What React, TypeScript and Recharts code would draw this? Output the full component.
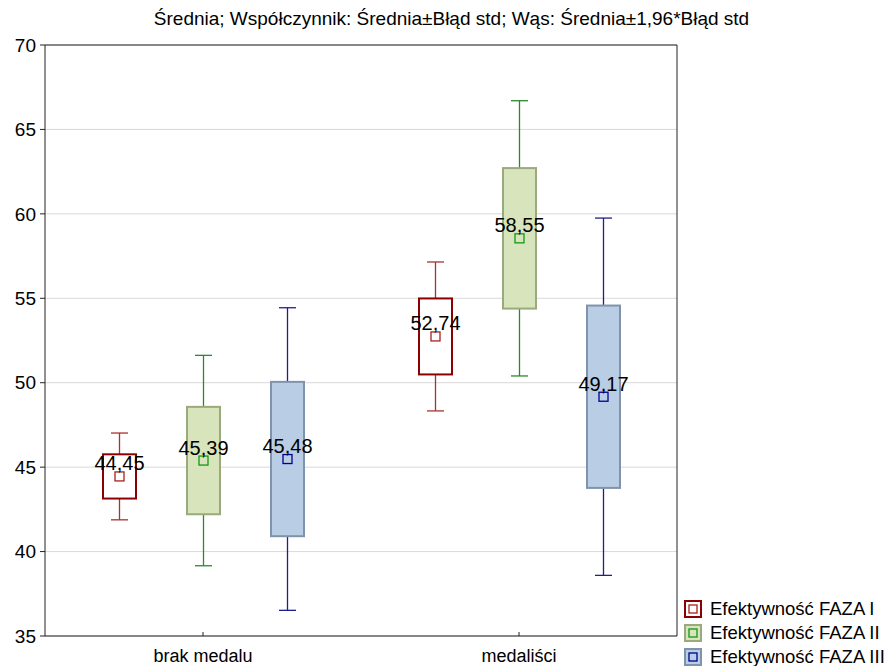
import React from 'react';
import { BarChart, Bar, XAxis, YAxis, CartesianGrid, Legend } from 'recharts';

const categories = ['brak medalu', 'medaliści'];
const seriesNames = ['Efektywność FAZA I', 'Efektywność FAZA II', 'Efektywność FAZA III'];

// per series: [brak medalu, medaliści]
const means = [
  [44.45, 52.74],
  [45.39, 58.55],
  [45.48, 49.17],
];
const boxLow = [
  [43.14, 50.49],
  [42.21, 54.39],
  [40.91, 43.77],
];
const boxHigh = [
  [45.76, 54.99],
  [48.57, 62.71],
  [50.05, 54.57],
];
const whiskerLow = [
  [41.88, 48.33],
  [39.16, 50.40],
  [36.52, 38.59],
];
const whiskerHigh = [
  [47.02, 57.15],
  [51.62, 66.70],
  [54.44, 59.75],
];

const yTicks = [35, 40, 45, 50, 55, 60, 65, 70];

const colors = [
  { fill: '#ffffff', stroke: '#8b0000', whisker: '#a83232', marker: '#a82020' },
  { fill: '#d8e4bc', stroke: '#9aaa7c', whisker: '#2a8a2a', marker: '#129912' },
  { fill: '#b9cde5', stroke: '#8093ad', whisker: '#1f1f8c', marker: '#00008f' },
];

const font = '"Liberation Sans", Arial, sans-serif';

const rows = categories.map((name, c) => {
  const row: Record<string, any> = { name };
  seriesNames.forEach((_, s) => {
    row[`mean${s}`] = means[s][c];
    row[`bl${s}`] = boxLow[s][c];
    row[`bh${s}`] = boxHigh[s][c];
    row[`wl${s}`] = whiskerLow[s][c];
    row[`wh${s}`] = whiskerHigh[s][c];
    row[`range${s}`] = [whiskerLow[s][c], whiskerHigh[s][c]];
  });
  return row;
});

// the bar spans the whiskers; box and mean are placed inside it
const BoxShape = (props: any) => {
  const { x, y, width, height, payload, s } = props;
  const col = colors[s];
  const top = Math.min(y, y + height);
  const bot = Math.max(y, y + height);
  const hi = payload[`wh${s}`];
  const lo = payload[`wl${s}`];
  const py = (v: number) => top + ((hi - v) / (hi - lo)) * (bot - top);
  const cx = x + width / 2;
  const cap = 17;
  const bTop = py(payload[`bh${s}`]);
  const bBot = py(payload[`bl${s}`]);
  const m = payload[`mean${s}`];
  const my = py(m);
  return (
    <g>
      <line x1={cx} x2={cx} y1={top} y2={bot} stroke={col.whisker} strokeWidth={1.3} />
      <line x1={cx - cap / 2} x2={cx + cap / 2} y1={top} y2={top} stroke={col.whisker} strokeWidth={1.3} />
      <line x1={cx - cap / 2} x2={cx + cap / 2} y1={bot} y2={bot} stroke={col.whisker} strokeWidth={1.3} />
      <rect x={x} y={bTop} width={width} height={bBot - bTop} fill={col.fill} stroke={col.stroke} strokeWidth={2} />
      <rect x={cx - 4.5} y={my - 4.5} width={9} height={9} fill="none" stroke={col.marker} strokeWidth={1.3} />
      <text x={cx} y={my - 6} textAnchor="middle" fontSize={20} fontFamily={font} fill="#000">
        {m.toFixed(2).replace('.', ',')}
      </text>
    </g>
  );
};

const CatTick = (props: any) => {
  const { x, y, payload } = props;
  return (
    <g>
      <line x1={x} x2={x} y1={y - 13} y2={y - 17} stroke="#222" />
      <text x={x} y={y} dy="0.71em" textAnchor="middle" fontSize={18} fontFamily={font} fill="#000">
        {payload.value}
      </text>
    </g>
  );
};

const LegendBox = () => (
  <div style={{ fontFamily: font, fontSize: 18.5, color: '#000' }}>
    {seriesNames.map((n, s) => (
      <div key={n} style={{ display: 'flex', alignItems: 'center', height: 24 }}>
        <svg width={18} height={18} style={{ marginRight: 8 }}>
          <rect x={1} y={1} width={16} height={16} fill={colors[s].fill} stroke={colors[s].stroke} strokeWidth={2} />
          <rect x={5} y={5} width={8} height={8} fill="none" stroke={colors[s].marker} strokeWidth={1.3} />
        </svg>
        <span style={{ whiteSpace: 'nowrap' }}>{n}</span>
      </div>
    ))}
  </div>
);

export default function App() {
  return (
    <div style={{ position: 'absolute', left: 0, top: 0, width: 888, height: 666, background: '#fff' }}>
      <div
        style={{
          position: 'absolute',
          left: 0,
          top: 8,
          width: 903,
          textAlign: 'center',
          fontFamily: font,
          fontSize: 19,
          color: '#000',
          whiteSpace: 'nowrap',
        }}
      >
        Średnia; Współczynnik: Średnia±Błąd std; Wąs: Średnia±1,96*Błąd std
      </div>
      <BarChart
        width={888}
        height={666}
        data={rows}
        margin={{ top: 45, right: 210, bottom: 0, left: 0 }}
        barSize={33}
        barGap={51}
      >
        <CartesianGrid vertical={false} stroke="#d9d9d9" />
        <XAxis
          dataKey="name"
          height={30}
          axisLine={{ stroke: '#222' }}
          tickLine={false}
          tickSize={0}
          tickMargin={13}
          tick={<CatTick />}
          interval={0}
        />
        <XAxis
          xAxisId="top"
          dataKey="name"
          orientation="top"
          height={1}
          mirror
          tick={false}
          tickSize={4}
          axisLine={{ stroke: '#222' }}
          tickLine={{ stroke: '#222' }}
        />
        <YAxis
          domain={[35, 70]}
          ticks={yTicks}
          allowDataOverflow
          width={45}
          tickSize={5}
          tickMargin={4}
          axisLine={{ stroke: '#222' }}
          tickLine={{ stroke: '#222' }}
          tick={{ fontSize: 19, fill: '#000', fontFamily: font }}
        />
        <YAxis
          yAxisId="right"
          orientation="right"
          domain={[35, 70]}
          width={1}
          tick={false}
          tickLine={false}
          axisLine={{ stroke: '#222' }}
        />
        <Legend
          layout="vertical"
          verticalAlign="middle"
          align="center"
          wrapperStyle={{ left: 684, top: 597, width: 204, height: 72 }}
          content={<LegendBox />}
        />
        {seriesNames.map((n, s) => (
          <Bar
            key={n}
            dataKey={`range${s}`}
            name={n}
            isAnimationActive={false}
            shape={(p: any) => <BoxShape {...p} s={s} />}
          />
        ))}
      </BarChart>
    </div>
  );
}
